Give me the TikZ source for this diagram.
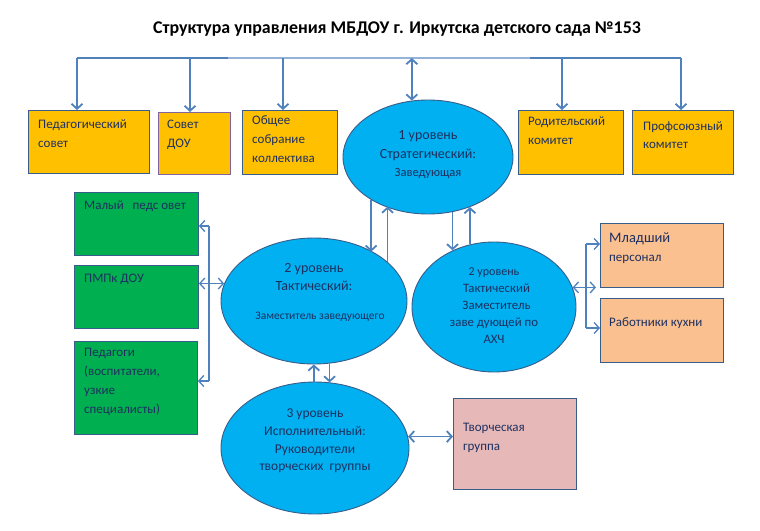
\documentclass[tikz,border=0pt]{standalone}
\usepackage{fontspec}
\setmainfont{Carlito}
\usetikzlibrary{arrows.meta,shapes.geometric}
\definecolor{arrc}{HTML}{4F81BD}
\definecolor{arrl}{HTML}{95B3D7}
\definecolor{bord}{HTML}{385D8A}
\definecolor{txtc}{HTML}{1F3060}
\definecolor{orng}{HTML}{FFC000}
\definecolor{grn}{HTML}{00B050}
\definecolor{peach}{HTML}{FAC090}
\definecolor{pinkb}{HTML}{E6B9B8}
\definecolor{ellc}{HTML}{00B0F0}
\definecolor{purp}{HTML}{8064A2}
\begin{document}
\begin{tikzpicture}[x=1pt,y=-1pt,
 box/.style={draw=bord, line width=0.9pt, rectangle, inner sep=0pt, anchor=north west},
 ell/.style={draw=bord, line width=0.9pt, fill=ellc, ellipse, inner sep=0pt},
 lbl/.style={anchor=north west, inner sep=0pt, align=left, text=txtc, font=\fontsize{13}{19}\selectfont},
 elbl/.style={anchor=north, inner sep=0pt, align=center, text=txtc, font=\fontsize{14}{19}\selectfont},
 tip/.tip={Straight Barb[length=5pt,width=11pt]},
 arr/.style={draw=arrc, line width=1.8pt, -tip},
 darr/.style={draw=arrc, line width=1.8pt, tip-tip},
 tarr/.style={draw=arrc, line width=1.3pt, -tip},
 tdarr/.style={draw=arrc, line width=1.3pt, tip-tip},
 tline/.style={draw=arrc, line width=1.3pt},
]
\useasboundingbox[fill=white] (0,0) rectangle (760,530);

% title
\node[font=\fontsize{17.9}{21}\selectfont\bfseries, anchor=base, inner sep=0pt] (title) at (397,33.5)
  {Структура управления МБДОУ г. Иркутска детского сада №153};

% top boxes
\node[box, fill=orng, minimum width=121pt, minimum height=63pt,
  label={[lbl, xshift=10pt, yshift=-4.7pt]north west:{\strut Педагогический\\совет}}] (ped) at (28,110) {};
\node[box, draw=purp, fill=orng, minimum width=72pt, minimum height=62pt,
  label={[lbl, xshift=9pt, yshift=-2.7pt]north west:{\strut Совет\\ДОУ}}] (sov) at (158,112) {};
\node[box, fill=orng, minimum width=95pt, minimum height=64pt,
  label={[lbl, xshift=10pt, yshift=-0.7pt]north west:{\strut Общее\\собрание\\коллектива}}] (obs) at (242,110) {};
\node[box, fill=orng, minimum width=105pt, minimum height=64pt,
  label={[lbl, xshift=10pt, yshift=-1.7pt]north west:{\strut Родительский\\комитет}}] (rod) at (518,110) {};
\node[box, fill=orng, minimum width=101pt, minimum height=64pt,
  label={[lbl, xshift=11pt, yshift=-6.7pt]north west:{\strut Профсоюзный\\[-1pt]комитет}}] (prof) at (632,110) {};

% green boxes
\node[box, fill=grn, minimum width=124pt, minimum height=63pt,
  label={[lbl, xshift=10pt, yshift=-3.7pt]north west:{\strut Малый\ \ \ педс овет}}] (mal) at (74,192) {};
\node[box, fill=grn, minimum width=124pt, minimum height=63pt,
  label={[lbl, xshift=10pt, yshift=-3.7pt]north west:{\strut ПМПк ДОУ}}] (pmpk) at (74,265) {};
\node[box, fill=grn, minimum width=123pt, minimum height=93pt,
  label={[lbl, xshift=10pt, yshift=-1.7pt]north west:{\strut Педагоги\\(воспитатели,\\узкие\\специалисты)}}] (ped2) at (74,341) {};

% peach boxes
\node[box, fill=peach, minimum width=123pt, minimum height=64pt,
  label={[lbl, xshift=9pt, yshift=-5.7pt]north west:{\strut{\fontsize{14.5}{19}\selectfont Младший}\\персонал}}] (mlad) at (600,223) {};
\node[box, fill=peach, minimum width=123pt, minimum height=64pt,
  label={[lbl, xshift=9pt, yshift=-14.7pt]north west:{\strut Работники кухни}}] (kuh) at (600,298) {};

% pink box
\node[box, fill=pinkb, minimum width=123pt, minimum height=91pt,
  label={[lbl, xshift=10pt, yshift=-19.7pt]north west:{\strut Творческая\\группа}}] (tvor) at (453,398) {};

% ellipses
\node[ell, minimum width=170pt, minimum height=114pt,
  label={[elbl, yshift=-26.7pt]north:{\strut 1 уровень\\Стратегический:\\[-1pt]\fontsize{12.5}{19}\selectfont Заведующая}}] (e1) at (428,157) {};
\node[ell, minimum width=186pt, minimum height=126pt,
  label={[elbl, yshift=-21.7pt]north:{\strut 2 уровень\\[-1pt]Тактический:\\[10pt]\fontsize{11.5}{19}\selectfont\hspace*{12pt}Заместитель заведующего}}] (e2) at (314,301) {};
\node[ell, minimum width=164pt, minimum height=130pt,
  label={[elbl, yshift=-20.7pt, font=\fontsize{12.8}{19}\selectfont]north:{\strut{\fontsize{12}{19}\selectfont 2 уровень}\\[-2pt]\hspace*{5pt}Тактический\\[-2pt]\hspace*{5pt}Заместитель\\[-2pt]заве дующей по\\[-2pt]АХЧ}}] (e3) at (494,307) {};
\node[ell, minimum width=188pt, minimum height=132pt,
  label={[elbl, yshift=-22.7pt, font=\fontsize{13.5}{19}\selectfont]north:{\strut 3 уровень\\[-1.3pt]Исполнительный:\\[-1.3pt]Руководители\\[-1.3pt]творческих\ \ группы}}] (e4) at (315,448) {};

% top bus line
\coordinate (t1) at (77,58);
\coordinate (t2) at (190,58);
\coordinate (t3) at (283,58);
\coordinate (tm1) at (228,58);
\coordinate (tm2) at (530,58);
\coordinate (t5) at (562,58);
\coordinate (t6) at (681,58);
\draw[draw=arrc, line width=1.8pt] (t1) -- (tm1);
\draw[draw=arrl, line width=1.8pt] (tm1) -- (tm2);
\draw[draw=arrc, line width=1.8pt] (tm2) -- (t6);
\draw[arr] (t1) -- (t1 |- ped.north);
\draw[arr] (t2) -- (t2 |- sov.north);
\draw[arr] (t3) -- (t3 |- obs.north);
\draw[arr] (t5) -- (t5 |- rod.north);
\draw[arr] (t6) -- (t6 |- prof.north);
\draw[darr] (e1.106.9 |- t1) -- (e1.106.9);

% level connections
\draw[arr] (e1.217.5) -- (e1.217.5 |- e2.40.2);
\draw[arr] (e2.28.4) -- (e2.28.4 |- e1.229.7);
\draw[arr] (e1.294.6) -- (e1.294.6 |- e3.126.1);
\draw[arr] (e3.111.1) -- (e3.111.1 |- e1.310.3);
\draw[arr] (e4.91.7) -- (e4.91.7 |- e2.269.1);
\draw[arr] (e2.284.5) -- (e2.284.5 |- e4.77.0);

% left bracket
\coordinate (lb1) at (209,226);
\coordinate (lb2) at (209,381);
\draw[tline] (lb1) -- (lb2);
\draw[tarr] (lb1) -- (lb1 -| mal.east);
\draw[tarr] (lb2) -- (lb2 -| ped2.east);
\draw[tdarr] (pmpk.east |- e2.169.9) -- (e2.169.9);

% right bracket
\coordinate (rb1) at (586,244);
\coordinate (rb2) at (586,328);
\coordinate (rbx) at (596,287);
\draw[tline] (rb1) -- (rb2);
\draw[tarr] (rb1) -- (rb1 -| mlad.west);
\draw[tarr] (rb2) -- (rb2 -| kuh.west);
\draw[tdarr] (e3.14.4) -- (e3.14.4 -| rbx);

% creative group
\draw[darr] (e4.7.4) -- (e4.7.4 -| tvor.west);
\end{tikzpicture}
\end{document}
